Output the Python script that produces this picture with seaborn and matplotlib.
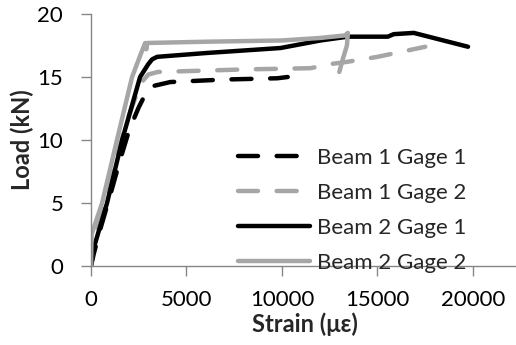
import matplotlib
matplotlib.use("Agg")
import matplotlib.pyplot as plt
import seaborn as sns
import pandas as pd

sns.set_theme(style="white")
plt.rcParams['font.family'] = ['Lato', 'DejaVu Sans']

labels = ["Beam 1 Gage 1", "Beam 1 Gage 2", "Beam 2 Gage 1", "Beam 2 Gage 2"]

b1g1_x = [0, 150, 500, 1000, 1500, 2000, 2500, 2800, 3100, 3300, 4150, 7000, 9760, 10300]
b1g1_y = [0, 1.0, 3.0, 5.6, 8.3, 10.8, 12.6, 13.5, 14.1, 14.3, 14.6, 14.8, 14.9, 15.0]

b1g2_x = [0, 100, 600, 1300, 2000, 2600, 3000, 3500, 8000, 11500, 12400, 13400, 15000, 17500]
b1g2_y = [0, 1.5, 4.5, 8.5, 12.0, 14.5, 15.2, 15.4, 15.6, 15.7, 16.0, 16.2, 16.6, 17.4]

b2g1_x = [0, 100, 840, 1630, 2570, 2990, 3200, 3460, 6000, 9920, 12020, 13440, 15540, 15850, 16900, 19740]
b2g1_y = [0, 1.2, 5.0, 10.0, 15.0, 16.0, 16.4, 16.6, 16.9, 17.3, 17.9, 18.2, 18.2, 18.4, 18.5, 17.4]

b2g2_x = [0, 30, 580, 1360, 2150, 2600, 2835, 2900, 2950, 6000, 10000, 12000, 13300, 13450, 13400, 13200, 13000]
b2g2_y = [0, 2.5, 5.0, 10.0, 15.0, 16.8, 17.7, 17.2, 17.7, 17.8, 17.9, 18.1, 18.3, 18.5, 17.5, 16.5, 15.4]

xs = [b1g1_x, b1g2_x, b2g1_x, b2g2_x]
ys = [b1g1_y, b1g2_y, b2g1_y, b2g2_y]
colors = ["#000000", "#a6a6a6", "#000000", "#a6a6a6"]
styles = ["dash", "dash", "solid", "solid"]

fig = plt.figure(figsize=(5.16, 3.45), dpi=100)
ax = fig.add_axes([91/516, (345-266)/345, (515-91)/516, (266-14)/345])

for lab, x, y, c, s in zip(labels, xs, ys, colors, styles):
    df = pd.DataFrame({"x": x, "y": y})
    sns.lineplot(data=df, x="x", y="y", ax=ax, sort=False, estimator=None,
                 color=c, lw=3.2, label=lab)
    l = ax.get_lines()[-1]
    l.set_solid_capstyle("round")
    if s == "dash":
        l.set_linestyle((0, (4.5, 4.2)))
        l.set_dash_capstyle("round")

ax.set_xlim(0, 22200)
ax.set_ylim(0, 20)
ax.set_xticks([0, 5000, 10000, 15000, 20000])
ax.set_yticks([0, 5, 10, 15, 20])
for side in ["top", "right"]:
    ax.spines[side].set_visible(False)
for side in ["left", "bottom"]:
    ax.spines[side].set_color("#868686")
    ax.spines[side].set_linewidth(1.0)
ax.tick_params(axis="both", which="major", length=7, width=1.0, color="#868686",
               labelsize=16, labelcolor="black", direction="out")
ax.tick_params(axis="x", pad=10)
ax.tick_params(axis="y", pad=13)
ax.tick_params(left=True, bottom=True)

ax.set_xlabel("Strain (με)", fontsize=17, fontweight="bold")
ax.set_ylabel("Load (kN)", fontsize=17, fontweight="bold")
ax.xaxis.set_label_coords((305 - 91) / 424, (266 - 312) / 252)
ax.yaxis.set_label_coords((34 - 91) / 424, 0.5)

leg = ax.legend(loc="upper left", bbox_to_anchor=((238 - 91) / 424, (266 - 148) / 252),
                frameon=False, fontsize=16, handlelength=3.25, handletextpad=0.3,
                labelspacing=0.67, borderaxespad=0, borderpad=0)
for h in leg.get_lines():
    h.set_linewidth(3.2)

fig.savefig("out.png", dpi=100)
